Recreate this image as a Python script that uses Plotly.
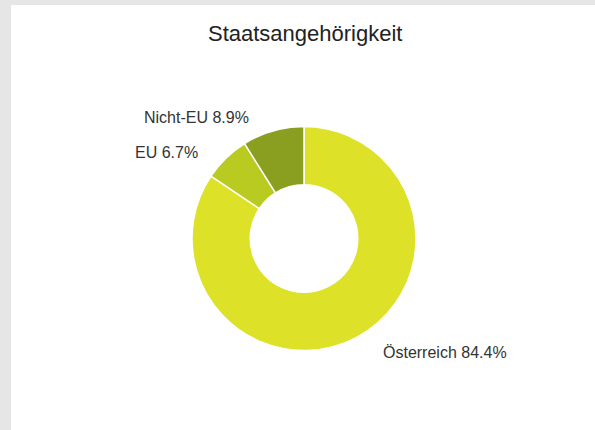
import plotly.graph_objects as go

# Citizenship breakdown (percent)
categories = ["Österreich", "EU", "Nicht-EU"]
shares = [84.4, 6.7, 8.9]
slice_colors = ["#dde229", "#b9cb21", "#8a9f1f"]

W, H = 595, 430
FONT = "Liberation Sans, Arial, Helvetica, sans-serif"

# Pie placement in pixels: centre and outer radius
cx, cy, r = 304, 238.5, 112

# Label anchor points (left edge, vertical middle) in pixels
label_pos = {
    "Österreich": (381, 352),
    "EU": (133, 152),
    "Nicht-EU": (142, 117),
}

fig = go.Figure(
    go.Pie(
        labels=categories,
        values=shares,
        sort=False,
        direction="clockwise",
        rotation=0,
        hole=0.48,
        textinfo="none",
        hoverinfo="label+percent",
        marker=dict(colors=slice_colors, line=dict(color="white", width=1.5)),
        domain=dict(
            x=[(cx - r) / W, (cx + r) / W],
            y=[1 - (cy + r) / H, 1 - (cy - r) / H],
        ),
        showlegend=False,
    )
)

annotations = [
    dict(
        x=305 / W, y=1 - 34 / H, xref="paper", yref="paper",
        text="Staatsangehörigkeit", showarrow=False,
        xanchor="center", yanchor="middle",
        font=dict(family=FONT, size=22, color="#222222"),
    )
]
for name, val in zip(categories, shares):
    px, py = label_pos[name]
    annotations.append(
        dict(
            x=px / W, y=1 - py / H, xref="paper", yref="paper",
            text=f"{name} {val}%", showarrow=False,
            xanchor="left", yanchor="middle",
            font=dict(family=FONT, size=16, color="#333333"),
        )
    )

fig.update_layout(
    width=W,
    height=H,
    margin=dict(l=0, r=0, t=0, b=0),
    paper_bgcolor="#e6e6e6",
    plot_bgcolor="white",
    annotations=annotations,
    shapes=[
        dict(
            type="rect", xref="paper", yref="paper",
            x0=11 / W, x1=1.01, y0=-0.01, y1=1 - 5 / H,
            fillcolor="white", line=dict(width=0), layer="below",
        )
    ],
)

fig.write_html("out.html")
